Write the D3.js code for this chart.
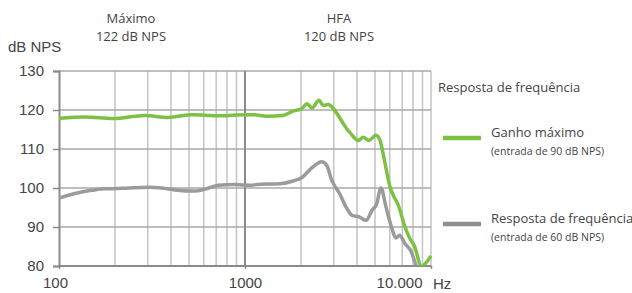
<!DOCTYPE html>
<html>
<head>
<meta charset="utf-8">
<script src="https://cdn.jsdelivr.net/npm/d3@7"></script>
<style>
  body { margin: 0; background: #fff; }
  .tick text { font-family: "Liberation Sans", Arial, sans-serif; font-size: 15px; fill: #444; }
  .note { font-family: "Open Sans", sans-serif; fill: #444; }
</style>
</head>
<body>
<div id="chart"></div>
<script>
// frequency response data (Hz, dB NPS)
var maxGainFreq = [100, 138, 195, 290, 385, 519, 632, 752, 884, 1104, 1313, 1600, 1812, 2024, 2154, 2293, 2500, 2635, 2805, 2985, 3240, 3520, 3670, 4065, 4325, 4640, 5060, 5320, 5660, 6020, 6270, 6670, 7250, 7710, 8110, 8910, 9480, 10000];
var maxGainDb = [117.9, 118.2, 117.8, 118.6, 118.1, 118.8, 118.6, 118.5, 118.7, 118.8, 118.4, 118.6, 119.7, 120.4, 121.6, 120.5, 122.5, 121.2, 121.4, 120.4, 117.9, 115.2, 114.2, 112.2, 113.0, 112.2, 113.5, 112.2, 106.3, 100.3, 98.1, 95.6, 90.0, 87.0, 85.3, 79.9, 81.0, 82.6];

var responseFreq = [100, 122, 150, 177, 195, 236, 302, 357, 420, 538, 610, 719, 884, 1086, 1156, 1543, 1812, 2024, 2293, 2585, 2750, 2925, 3240, 3450, 3760, 4105, 4475, 4820, 5095, 5380, 5730, 6095, 6480, 6770, 7250, 7800, 8300];
var responseDb = [97.4, 98.6, 99.4, 99.8, 99.8, 100.0, 100.2, 100.0, 99.5, 99.2, 99.7, 100.7, 100.9, 100.7, 100.9, 101.1, 101.8, 102.7, 105.2, 106.7, 105.8, 102.0, 98.4, 95.6, 93.0, 92.6, 91.7, 94.3, 95.8, 100.0, 95.1, 90.4, 87.2, 87.9, 85.7, 83.8, 80.2];

var yTicks = [80, 90, 100, 110, 120, 130];
var xTicks = [100, 1000, 10000];
var xTickLabels = ["100", "1000", "10.000"];
var gridFreqs = [200, 300, 400, 500, 600, 700, 800, 900, 2000, 3000, 4000, 5000, 6000, 7000, 8000, 9000, 10000];

var svgWidth = 632, svgHeight = 293;
var margin = { top: 71, right: 201, bottom: 27, left: 59 };
var width = svgWidth - margin.left - margin.right;
var height = svgHeight - margin.top - margin.bottom;

var svg = d3.select("#chart").append("svg")
  .attr("width", svgWidth)
  .attr("height", svgHeight);

var chartGroup = svg.append("g")
  .attr("transform", `translate(${margin.left}, ${margin.top})`);

var xScale = d3.scaleLog().domain([100, 10000]).range([0, width]);
var yScale = d3.scaleLinear().domain([80, 130]).range([height, 0]);

// vertical grid
chartGroup.selectAll(".vgrid")
  .data(gridFreqs)
  .enter()
  .append("line")
  .attr("x1", d => xScale(d)).attr("x2", d => xScale(d))
  .attr("y1", 0).attr("y2", height)
  .attr("stroke", "#c4c4c4")
  .attr("stroke-width", 1.5);

// horizontal grid
chartGroup.selectAll(".hgrid")
  .data(yTicks)
  .enter()
  .append("line")
  .attr("x1", 0).attr("x2", width)
  .attr("y1", d => yScale(d)).attr("y2", d => yScale(d))
  .attr("stroke", "#a8a8a8")
  .attr("stroke-width", 1.5);

// 1000 Hz line
chartGroup.append("line")
  .attr("x1", xScale(1000)).attr("x2", xScale(1000))
  .attr("y1", 0).attr("y2", height)
  .attr("stroke", "#8a8a8a")
  .attr("stroke-width", 2);

// axes
var leftAxis = d3.axisLeft(yScale).tickValues(yTicks).tickSize(6).tickPadding(9);
var bottomAxis = d3.axisBottom(xScale).tickValues(xTicks).tickSize(3).tickPadding(8)
  .tickFormat((d, i) => xTickLabels[i]);

var yAxisG = chartGroup.append("g").call(leftAxis);
var xAxisG = chartGroup.append("g").attr("transform", `translate(0, ${height})`).call(bottomAxis);

[yAxisG, xAxisG].forEach(function(g) {
  g.select(".domain").attr("stroke", "#8a8a8a").attr("stroke-width", 2);
  g.selectAll(".tick line").attr("stroke", "#8a8a8a").attr("stroke-width", 1.5);
});
xAxisG.select(".domain").attr("d", `M0,0H${width}`);
xAxisG.selectAll(".tick text").filter(d => d === 100).attr("x", -4);
xAxisG.selectAll(".tick text").filter(d => d === 10000)
  .attr("text-anchor", "end").attr("x", -9);

// lines
var line = d3.line()
  .x(d => xScale(d[0]))
  .y(d => yScale(d[1]))
  .curve(d3.curveMonotoneX);

chartGroup.append("clipPath").attr("id", "clip")
  .append("rect").attr("x", 0).attr("y", -10).attr("width", width + 2).attr("height", height + 10);

chartGroup.append("path")
  .datum(responseFreq.map((f, i) => [f, responseDb[i]]))
  .attr("d", line)
  .attr("fill", "none")
  .attr("stroke", "#9b9b9b")
  .attr("stroke-width", 3.5)
  .attr("stroke-linejoin", "round")
  .attr("clip-path", "url(#clip)");

chartGroup.append("path")
  .datum(maxGainFreq.map((f, i) => [f, maxGainDb[i]]))
  .attr("d", line)
  .attr("fill", "none")
  .attr("stroke", "#7cc142")
  .attr("stroke-width", 3.5)
  .attr("stroke-linejoin", "round")
  .attr("clip-path", "url(#clip)");

// labels
svg.append("text")
  .attr("x", 8).attr("y", 52)
  .style("font-family", "Liberation Sans, Arial, sans-serif")
  .style("font-size", "15px").style("fill", "#444")
  .text("dB NPS");

svg.append("text")
  .attr("x", 433).attr("y", 289)
  .style("font-family", "Liberation Sans, Arial, sans-serif")
  .style("font-size", "15px").style("fill", "#444")
  .text("Hz");

var notes = [
  { x: 131, y: 23, t: "Máximo" },
  { x: 131, y: 41, t: "122 dB NPS" },
  { x: 339, y: 23, t: "HFA" },
  { x: 339, y: 41, t: "120 dB NPS" }
];
svg.selectAll(".topnote")
  .data(notes)
  .enter()
  .append("text")
  .attr("class", "note")
  .attr("x", d => d.x).attr("y", d => d.y)
  .attr("text-anchor", "middle")
  .style("font-size", "13px")
  .text(d => d.t);

// legend
svg.append("text").attr("class", "note")
  .attr("x", 438).attr("y", 92)
  .style("font-size", "13px")
  .text("Resposta de frequência");

var legend = [
  { y: 138, color: "#7cc142", t1: "Ganho máximo", t2: "(entrada de 90 dB NPS)" },
  { y: 224, color: "#8f8f8a", t1: "Resposta de frequência", t2: "(entrada de 60 dB NPS)" }
];
var lg = svg.selectAll(".legend")
  .data(legend)
  .enter()
  .append("g");
lg.append("line")
  .attr("x1", 443).attr("x2", 481)
  .attr("y1", d => d.y).attr("y2", d => d.y)
  .attr("stroke", d => d.color)
  .attr("stroke-width", 4.5);
lg.append("text").attr("class", "note")
  .attr("x", 491).attr("y", d => d.y - 1)
  .style("font-size", "13px")
  .text(d => d.t1);
lg.append("text").attr("class", "note")
  .attr("x", 491).attr("y", d => d.y + 17)
  .style("font-size", "10.5px")
  .text(d => d.t2);
</script>
</body>
</html>
